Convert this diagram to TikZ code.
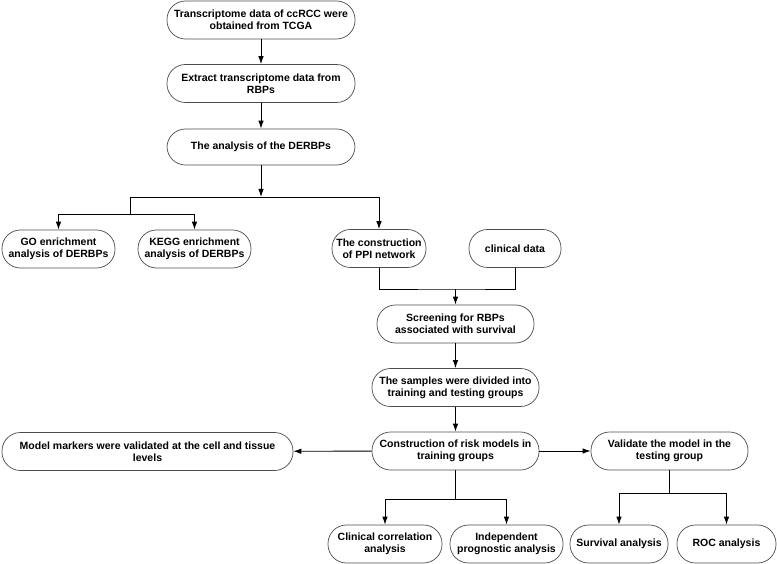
\documentclass[tikz,border=0pt]{standalone}
\usepackage{fontspec}
\setmainfont{Liberation Sans}
\usetikzlibrary{arrows.meta}
\begin{document}
\begin{tikzpicture}[
		x=1pt,y=-1pt,
		font=\bfseries\fontsize{10.5}{12}\selectfont,
		box/.style={draw=black!70,line width=0.7pt,rounded corners=18.5pt,align=center,inner sep=0pt,minimum height=38pt},
		arr/.style={line width=0.9pt,-{Latex[length=8pt,width=5.5pt]}},
		line/.style={line width=0.9pt}
		]
		\useasboundingbox (0,0) rectangle (777,564);
		\node[box,minimum width=188pt] (N1) at (261,20) {Transcriptome data of ccRCC were\\obtained from TCGA};
		\node[box,minimum width=188pt] (N2) at (261,83.5) {Extract transcriptome data from\\RBPs};
		\node[box,minimum width=188pt,minimum height=36pt] (N3) at (261,147) {The analysis of the DERBPs};
		\node[box,minimum width=113pt] (GO) at (58.5,249) {GO enrichment\\analysis of DERBPs};
		\node[box,minimum width=113pt] (KEGG) at (194.5,249) {KEGG enrichment\\analysis of DERBPs};
		\node[box,minimum width=94pt] (PPI) at (379,248.5) {The construction\\of PPI network};
		\node[box,minimum width=92pt] (CLIN) at (515,248.5) {clinical data};
		\node[box,minimum width=157pt] (SCR) at (455.5,324) {Screening for RBPs\\associated with survival};
		\node[box,minimum width=167pt] (SMP) at (455.5,387.5) {The samples were divided into\\training and testing groups};
		\node[box,minimum width=167pt] (CON) at (455.5,451) {Construction of risk models in\\training groups};
		\node[box,minimum width=291pt] (MM) at (147.5,451.5) {Model markers were validated at the cell and tissue\\levels};
		\node[box,minimum width=157pt] (VAL) at (669.5,451) {Validate the model in the\\testing group};
		\node[box,minimum width=114pt] (CC) at (385,544) {Clinical correlation\\analysis};
		\node[box,minimum width=113pt] (IND) at (506.5,544) {Independent\\prognostic analysis};
		\node[box,minimum width=98pt] (SURV) at (619,544) {Survival analysis};
		\node[box,minimum width=99pt] (ROC) at (726.5,544) {ROC analysis};
		\coordinate (B1) at (261,197);
		\coordinate (B2) at (130,214);
		\coordinate (B3) at (455.5,289);
		\coordinate (B4) at (455.5,499);
		\coordinate (B5) at (669.5,493);
		\draw[arr] (N1) to (N2);
		\draw[arr] (N2) to (N3);
		\draw[arr] (N3) to (B1);
		\draw[arr] (B1) -| (PPI.north);
		\draw[line] (B1) -| (B2);
		\draw[arr] (B2) -| (GO.north);
		\draw[arr] (B2) -| (KEGG.north);
		\draw[line] (PPI.south) |- (B3) -| (CLIN.south);
		\draw[arr] (B3) to (SCR);
		\draw[arr] (SCR) to (SMP);
		\draw[arr] (SMP) to (CON);
		\draw[arr] (CON) to (MM);
		\draw[arr] (CON) to (VAL);
		\draw[line] (CON) to (B4);
		\draw[arr] (B4) -| (CC.north);
		\draw[arr] (B4) -| (IND.north);
		\draw[line] (VAL) to (B5);
		\draw[arr] (B5) -| (SURV.north);
		\draw[arr] (B5) -| (ROC.north);
	\end{tikzpicture}
\end{document}
